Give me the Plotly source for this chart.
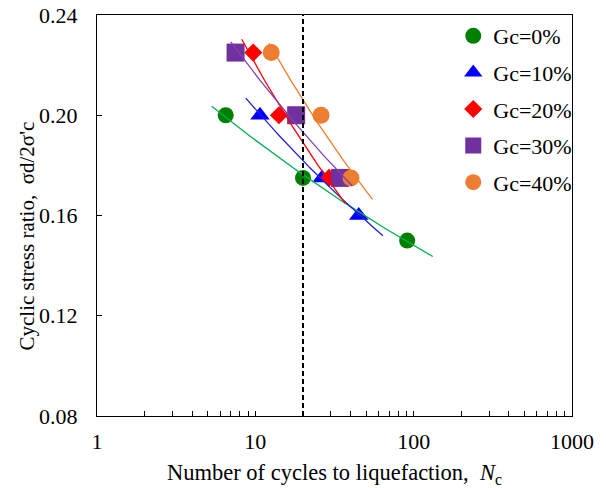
import numpy as np
import plotly.graph_objects as go

# ---- data ----
series_names = ["Gc=0%", "Gc=10%", "Gc=20%", "Gc=30%", "Gc=40%"]
cycles_gc0 = [6.5, 20.0, 91.0]
csr_gc0 = [0.200, 0.175, 0.150]
cycles_gc10 = [10.7, 26.4, 45.0]
csr_gc10 = [0.200, 0.175, 0.160]
cycles_gc20 = [9.7, 14.1, 29.2]
csr_gc20 = [0.225, 0.200, 0.175]
cycles_gc30 = [7.5, 18.1, 34.3]
csr_gc30 = [0.225, 0.200, 0.175]
cycles_gc40 = [12.6, 26.0, 40.2]
csr_gc40 = [0.225, 0.200, 0.175]
# extent of each power-law trendline (cycles)
trend_extent = [(5.3, 132.0), (8.7, 64.0), (8.2, 37.0), (7.0, 41.0), (12.2, 55.0)]
ref_cycles = 20  # reference number of cycles (dashed line)
x_tick_vals = [1, 10, 100, 1000]
x_tick_text = ["1", "10", "100", "1000"]
y_tick_vals = [0.08, 0.12, 0.16, 0.20, 0.24]
x_title = "Number of cycles to liquefaction,  <i>N</i><sub>c</sub>"
y_title = "Cyclic stress ratio,\u00a0 \u03c3d/2\u03c3'c"

cycles = [cycles_gc0, cycles_gc10, cycles_gc20, cycles_gc30, cycles_gc40]
csrs = [csr_gc0, csr_gc10, csr_gc20, csr_gc30, csr_gc40]

# ---- styles ----
marker_colors = ["#008000", "#0000FF", "#FF0000", "#7030A0", "#ED7D31"]
line_colors = ["#00B050", "#2020E0", "#FF0000", "#8040B0", "#ED7D31"]
symbols = ["circle", "triangle-up", "diamond", "square", "circle"]
sizes = [16, 17, 14, 18, 17]
FONT = "Liberation Serif, Times New Roman, serif"

fig = go.Figure()

for i in range(5):
    fig.add_trace(go.Scatter(
        x=cycles[i], y=csrs[i], mode="markers", name=series_names[i],
        legendgroup=series_names[i],
        marker=dict(symbol=symbols[i], size=sizes[i], color=marker_colors[i],
                    line=dict(width=0)),
    ))

# power-law trendlines fitted from the data (like Excel power trendline)
for i in range(5):
    b, ln_a = np.polyfit(np.log(cycles[i]), np.log(csrs[i]), 1)
    lo, hi = trend_extent[i]
    xs = np.logspace(np.log10(lo), np.log10(hi), 60)
    ys = np.exp(ln_a) * xs ** b
    fig.add_trace(go.Scatter(
        x=xs, y=ys, mode="lines", showlegend=False, hoverinfo="skip",
        line=dict(color=line_colors[i], width=1.3),
    ))

# vertical dashed reference line
fig.add_trace(go.Scatter(
    x=[ref_cycles, ref_cycles], y=[y_tick_vals[0], y_tick_vals[-1]],
    mode="lines", showlegend=False, hoverinfo="skip",
    line=dict(color="black", width=2, dash="5px,3px"),
))

minor_vals = [m * d for d in (1, 10, 100) for m in range(2, 10)]

fig.update_layout(
    width=606, height=488,
    margin=dict(l=97, r=34, t=15, b=72),
    paper_bgcolor="white", plot_bgcolor="white",
    font=dict(family=FONT, color="black", size=20),
    showlegend=True,
    legend=dict(
        x=0.75, y=1.0, xanchor="left", yanchor="top",
        bgcolor="rgba(0,0,0,0)", borderwidth=0,
        font=dict(family=FONT, size=22, color="black"),
        tracegroupgap=5, itemwidth=30,
    ),
    xaxis=dict(
        type="log", range=[0, 3], automargin=False,
        tickvals=x_tick_vals, ticktext=x_tick_text,
        ticks="inside", ticklen=5, tickwidth=1, tickcolor="black",
        minor=dict(tickvals=minor_vals, ticks="inside", ticklen=5,
                   tickwidth=1, tickcolor="black", showgrid=False),
        showline=True, linecolor="black", linewidth=1.3, mirror=True,
        showgrid=False, zeroline=False,
        tickfont=dict(family=FONT, size=22),
        ticklabelstandoff=5,
        title=dict(text=x_title, font=dict(family=FONT, size=22.5), standoff=13),
    ),
    yaxis=dict(
        range=[0.08, 0.24], tickvals=y_tick_vals, tickformat=".2f",
        automargin=False,
        ticks="inside", ticklen=5, tickwidth=1, tickcolor="black",
        showline=True, linecolor="black", linewidth=1.3, mirror=True,
        showgrid=False, zeroline=False,
        tickfont=dict(family=FONT, size=22),
        ticklabelstandoff=14,
    ),
    annotations=[dict(
        text=y_title, xref="paper", yref="paper", x=-0.147, y=0.448,
        xanchor="center", yanchor="middle", textangle=-90, showarrow=False,
        font=dict(family=FONT, size=21, color="black"),
    )],
)

fig.write_html("out.html")
